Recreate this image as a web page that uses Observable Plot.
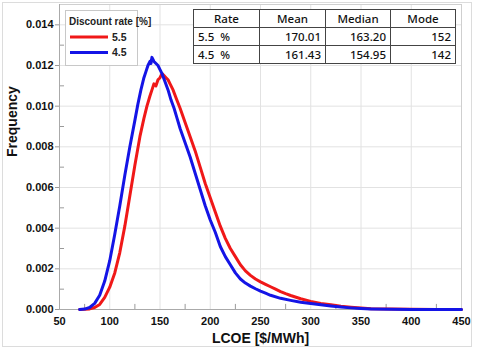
<!DOCTYPE html>
<html>
<head>
<meta charset="utf-8">
<script src="https://cdn.jsdelivr.net/npm/d3@7"></script>
<script src="https://cdn.jsdelivr.net/npm/@observablehq/plot@0.6"></script>
<style>
  body { margin: 0; background: #fff; }
  #wrap { position: relative; width: 477px; height: 352px; overflow: hidden; background: #fff; }
  #border { position: absolute; left: 2px; top: 2px; width: 470px; height: 345px; border: 1px solid #dcdcdc; box-sizing: border-box; pointer-events: none; }
  #legend { position: absolute; left: 65px; top: 10px; width: 73px; height: 56px; border: 1px solid #c8c8c8; background: #fff; box-sizing: border-box; font-family: "Liberation Sans Narrow", "Liberation Sans", Arial, sans-serif; font-weight: bold; color: #222; }
  #legend .title { position: absolute; left: 3px; top: 5px; font-size: 10px; white-space: nowrap; }
  #legend svg { position: absolute; left: 0; top: 0; }
  #stats { position: absolute; left: 193px; top: 9px; border-collapse: collapse; background: #fff; font-family: "Noto Sans", "Open Sans", sans-serif; font-size: 11.5px; color: #111; }
  #stats td, #stats th { border: 1px solid #444; padding: 0 4px; height: 17px; line-height: 17px; font-weight: 500; }
  #stats th { text-align: center; }
  #stats td { text-align: right; }
  #stats td.rate { text-align: left; word-spacing: 3px; }
</style>
</head>
<body>
<div id="wrap"></div>
<script>
// LCOE frequency distributions for two discount rates
const lcoe45 = [70,75,80,85,90,95,100,105,110,115,120,125,128,131,134,136,138,140,141,142,143,144,146,148,150,152,155,158,161,164,167,170,175,180,185,190,195,200,205,210,215,220,225,230,235,240,245,250,255,260,270,280,290,300,310,320,330,340,350,360,380,400,425,450];
const freq45 = [0,0.00002,0.0001,0.0003,0.0007,0.0014,0.0024,0.0037,0.0051,0.0066,0.0080,0.0093,0.0101,0.0108,0.0114,0.0117,0.0120,0.0122,0.0121,0.0124,0.0123,0.0122,0.0121,0.0120,0.0118,0.0116,0.0112,0.0108,0.0103,0.0099,0.0094,0.0089,0.0082,0.0075,0.0067,0.0059,0.0051,0.0044,0.0038,0.0031,0.0026,0.0022,0.0018,0.0015,0.0013,0.00115,0.00102,0.0009,0.0008,0.0007,0.00055,0.00045,0.00036,0.0003,0.00023,0.00017,0.00012,0.00008,0.00005,0.00003,0.00001,0.000005,0.000002,0];

const lcoe55 = [70,75,80,85,90,95,100,105,110,115,120,125,130,134,137,140,142,144,146,148,150,152,154,156,158,160,163,166,170,175,180,185,190,195,200,205,210,215,220,225,230,235,240,245,250,255,260,265,270,275,280,290,300,310,320,330,340,350,360,380,400,425,450];
const freq55 = [0,0.00001,0.00003,0.0001,0.00025,0.0006,0.0011,0.0018,0.0028,0.0041,0.0056,0.0071,0.0085,0.0094,0.0100,0.0105,0.0108,0.0111,0.0110,0.0113,0.0114,0.0116,0.0115,0.0114,0.0113,0.0111,0.0108,0.0104,0.0099,0.0092,0.0085,0.0078,0.0070,0.0062,0.0055,0.0048,0.0041,0.0035,0.0030,0.0026,0.0022,0.0019,0.00168,0.0015,0.00136,0.00124,0.00112,0.001,0.00088,0.00078,0.00069,0.00053,0.0004,0.0003,0.00023,0.00016,0.00011,0.00007,0.00004,0.00002,0.00001,0.000004,0];

const seriesNames = ["5.5", "4.5"];
const seriesColors = ["#f01818", "#1414e6"];

const xTicks = [50,100,150,200,250,300,350,400,450];
const xMinor = [75,125,175,225,275,325,375,425];
const yTicks = [0,0.002,0.004,0.006,0.008,0.010,0.012,0.014];
const yMinor = [0.001,0.003,0.005,0.007,0.009,0.011,0.013];

// summary statistics table
const statHeader = ["Rate","Mean","Median","Mode"];
const statRate = ["5.5 %","4.5 %"];
const statMean = ["170.01","161.43"];
const statMedian = ["163.20","154.95"];
const statMode = ["152","142"];

const rows55 = lcoe55.map((x, i) => ({x, y: freq55[i]}));
const rows45 = lcoe45.map((x, i) => ({x, y: freq45[i]}));

const tickColor = "#9a9a9a";
const ink = "#111";
const labelFont = "'Liberation Sans', Arial, sans-serif";
const chart = Plot.plot({
  width: 477,
  height: 352,
  marginLeft: 59,
  marginRight: 16,
  marginTop: 4,
  marginBottom: 43,
  x: {domain: [50, 450], axis: null},
  y: {domain: [0, 0.015], axis: null},
  style: {fontFamily: labelFont, fontSize: "11px", fontWeight: "bold", color: ink, background: "transparent"},
  marks: [
    Plot.gridX(xTicks, {stroke: "#e2e2e2", strokeOpacity: 1}),
    Plot.gridY(yTicks, {stroke: "#e2e2e2", strokeOpacity: 1}),
    Plot.frame({stroke: "#cfcfcf"}),
    // minor ticks point into the plot, major y ticks point outward
    Plot.ruleX(xMinor, {y1: 0, y2: 0.00025, stroke: tickColor}),
    Plot.ruleY(yMinor, {x1: 50, x2: 55, stroke: tickColor}),
    Plot.ruleY(yTicks, {x1: 46, x2: 50, stroke: tickColor}),
    Plot.ruleX([50], {stroke: "#aaa"}),
    Plot.ruleY([0], {stroke: "#aaa"}),
    // tick labels
    Plot.text(xTicks, {x: d => d, frameAnchor: "bottom", dy: 12, lineAnchor: "middle", fill: ink, fontWeight: "bold", fontSize: 11}),
    Plot.text(yTicks, {y: d => d, frameAnchor: "left", dx: -6, textAnchor: "end", text: d => d.toFixed(3), fill: ink, fontWeight: "bold", fontSize: 11}),
    Plot.line(rows55, {x: "x", y: "y", stroke: seriesColors[0], strokeWidth: 3}),
    Plot.line(rows45, {x: "x", y: "y", stroke: seriesColors[1], strokeWidth: 3}),
    Plot.text(["LCOE [$/MWh]"], {frameAnchor: "bottom", dy: 29, fontSize: 14, fontWeight: "bold", fill: ink, lineAnchor: "middle"}),
    Plot.text(["Frequency"], {frameAnchor: "left", dx: -47, rotate: -90, fontSize: 14, fontWeight: "bold", fill: ink, lineAnchor: "middle"})
  ]
});

const wrap = document.getElementById("wrap");
wrap.appendChild(chart);

const border = document.createElement("div");
border.id = "border";
wrap.appendChild(border);

// legend
const legend = document.createElement("div");
legend.id = "legend";
legend.innerHTML = `<div class="title">Discount rate [%]</div>`;
const lsvg = d3.create("svg").attr("width", 73).attr("height", 56);
seriesNames.forEach((name, i) => {
  const y = 26 + i * 15.5;
  lsvg.append("line").attr("x1", 4).attr("x2", 42).attr("y1", y).attr("y2", y)
    .attr("stroke", seriesColors[i]).attr("stroke-width", 3);
  lsvg.append("text").attr("x", 46).attr("y", y).attr("dy", "0.35em")
    .attr("font-size", 10.5).attr("font-weight", "bold").attr("fill", "#222")
    .attr("font-family", "'Liberation Sans Narrow', 'Liberation Sans', Arial, sans-serif")
    .text(name);
});
legend.appendChild(lsvg.node());
wrap.appendChild(legend);

// statistics table
const table = document.createElement("table");
table.id = "stats";
const colW = [57, 57, 56, 56];
let html = "<tr>" + statHeader.map((h, j) => `<th style="width:${colW[j]}px">${h}</th>`).join("") + "</tr>";
statRate.forEach((r, i) => {
  html += `<tr><td class="rate">${r}</td><td>${statMean[i]}</td><td>${statMedian[i]}</td><td>${statMode[i]}</td></tr>`;
});
table.innerHTML = html;
wrap.appendChild(table);
</script>
</body>
</html>
